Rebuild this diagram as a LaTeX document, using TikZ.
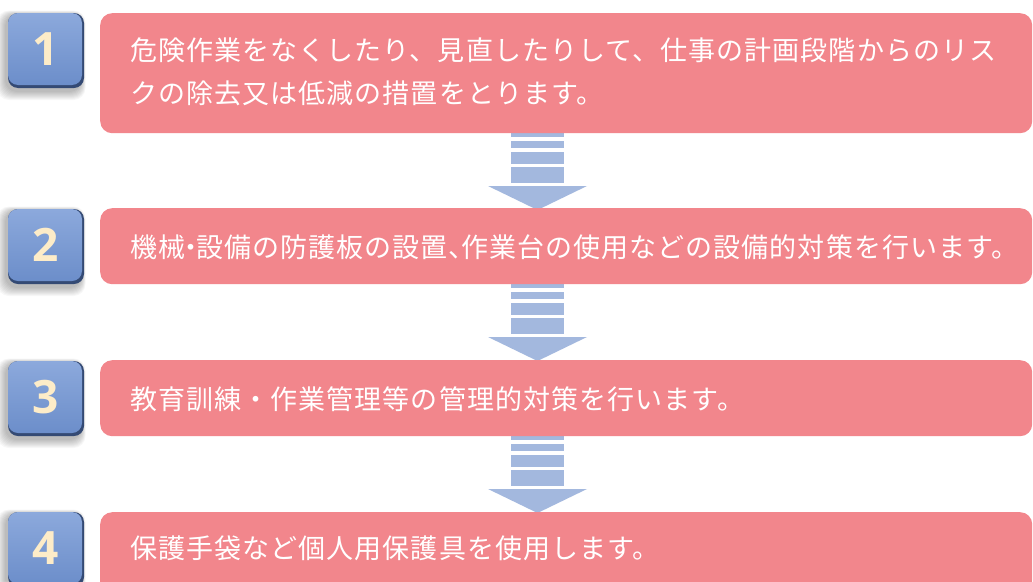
\documentclass[tikz,border=0pt]{standalone}
\usepackage{fontspec}
\newfontfamily\jp[LetterSpace=4]{Noto Sans CJK JP}
\newfontfamily\numfont{Open Sans}
\definecolor{pinkbox}{RGB}{242,134,140}
\definecolor{arrowblue}{RGB}{163,184,222}
\definecolor{badgetop}{RGB}{140,169,220}
\definecolor{badgebot}{RGB}{108,142,202}
\definecolor{badgedark}{RGB}{52,74,116}
\definecolor{numcream}{RGB}{253,236,200}
\tikzset{
  stepboxstyle/.style={fill=pinkbox, rounded corners=12pt, inner sep=0pt, anchor=north west, minimum width=932pt},
  txt/.style={text=white, font=\jp\fontsize{27}{27}\selectfont, inner sep=0pt, anchor=west},
  numstyle/.style={text=numcream, font=\numfont\bfseries\fontsize{46}{46}\selectfont, inner sep=0pt},
  arrowfill/.style={fill=arrowblue}
}
\newcommand\mybadge[3]{%
  \foreach \k in {1,...,9} {
    \fill[black, opacity=0.03, rounded corners=12pt] ({8-2-\k},{#2+2-0.5*\k}) rectangle ({83-2+0.5*\k},{#2+75+3+\k});
  }
  \fill[badgedark, rounded corners=10pt] (8,#2) rectangle (84,{#2+75});
  \shade[top color=badgetop, bottom color=badgebot, rounded corners=10pt] (8,#2) rectangle (82,{#2+72});
  \node[numstyle] (n#1) at (46,{#2+36}) {#3};
}
\newcommand\myarrow[1]{%
  \fill[arrowfill] (511,{#1-2}) rectangle (564,{#1+4});
  \fill[arrowfill] (511,{#1+8}) rectangle (564,{#1+15});
  \fill[arrowfill] (511,{#1+19}) rectangle (564,{#1+31});
  \fill[arrowfill] (511,{#1+34}) rectangle (564,{#1+50});
  \fill[arrowfill] (488,{#1+53}) -- (587,{#1+53}) -- (537.5,{#1+77}) -- cycle;
}
\begin{document}
\begin{tikzpicture}[x=1pt, y=-1pt]
\useasboundingbox (0,0) rectangle (1033,581);
\clip (0,0) rectangle (1033,581);
\fill[white] (0,0) rectangle (1033,581);
% arrows
\myarrow{133}
\myarrow{284}
\myarrow{436}
% boxes
\node[stepboxstyle, minimum height=120pt] (b1) at (100,13) {};
\node[stepboxstyle, minimum height=76pt] (b2) at (100,208) {};
\node[stepboxstyle, minimum height=76pt] (b3) at (100,360) {};
\node[stepboxstyle, minimum height=90pt] (b4) at (100,512) {};
% badges
\mybadge{1}{13}{1}
\mybadge{2}{209}{2}
\mybadge{3}{361}{3}
\mybadge{4}{512}{4}
% texts
\node[txt] (t1a) at (130,50) {危険作業をなくしたり、見直したりして、仕事の計画段階からのリス};
\node[txt] (t1b) at (130,93) {クの除去又は低減の措置をとります。};
\node[txt] (t2) at (130,247) {機械\hspace{-8pt}・\hspace{-8pt}設備の防護板の設置、\hspace{-15pt}作業台の使用などの設備的対策を行います。};
\node[txt] (t3) at (130,399) {教育訓練・作業管理等の管理的対策を行います。};
\node[txt] (t4) at (130,548) {保護手袋など個人用保護具を使用します。};
\end{tikzpicture}
\end{document}
